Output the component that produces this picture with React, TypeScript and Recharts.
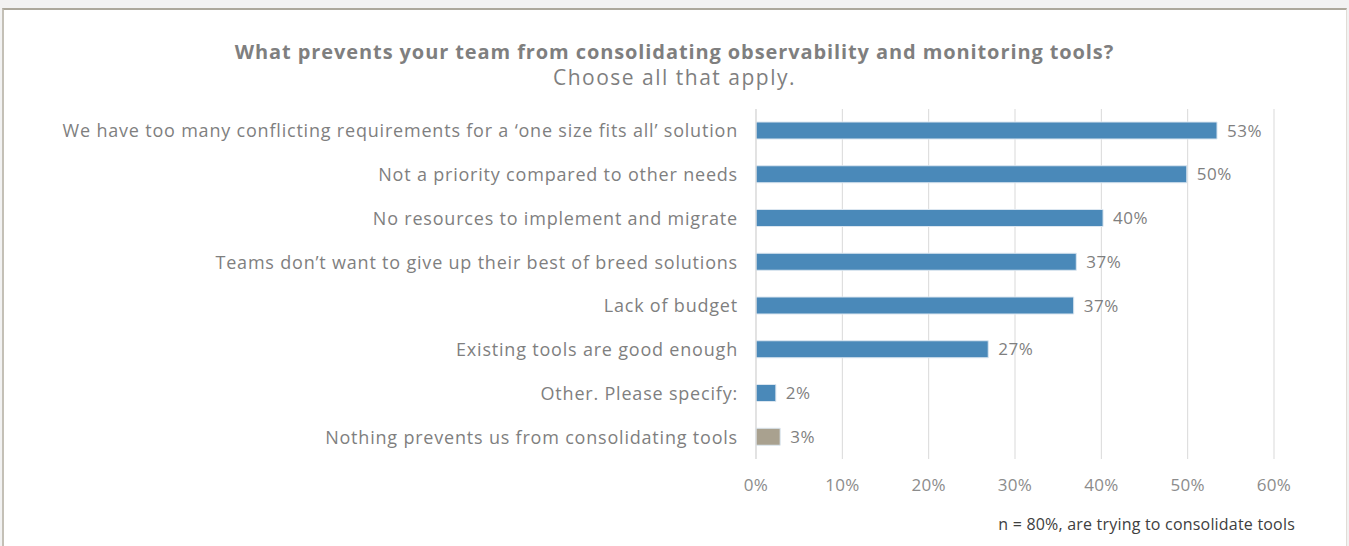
import React from "react"
import { Bar, BarChart, CartesianGrid, Cell, LabelList, XAxis, YAxis } from "recharts"

const reasons = [
    "We have too many conflicting requirements for a \u2018one size fits all\u2019 solution",
    "Not a priority compared to other needs",
    "No resources to implement and migrate",
    "Teams don\u2019t want to give up their best of breed solutions",
    "Lack of budget",
    "Existing tools are good enough",
    "Other. Please specify:",
    "Nothing prevents us from consolidating tools",
]
const shares = [0.534, 0.499, 0.402, 0.371, 0.368, 0.269, 0.023, 0.028]
const barColors = ["#4a89b9", "#4a89b9", "#4a89b9", "#4a89b9", "#4a89b9", "#4a89b9", "#4a89b9", "#a9a18f"]
const xTicks = [0, 0.1, 0.2, 0.3, 0.4, 0.5, 0.6]

const data = reasons.map((name, i) => ({ name, value: shares[i] }))

const FONT = "'Open Sans', sans-serif"
const pct = (v: number) => `${Math.round(v * 100)}%`

export default function App() {
    return (
        <div style={{ position: "absolute", left: 0, top: 0, width: 1349, height: 546, background: "#f2f2f2", fontFamily: FONT }}>
            <div
                style={{
                    position: "absolute",
                    left: 2,
                    top: 8,
                    width: 1345,
                    height: 538,
                    background: "#fff",
                    borderTop: "2px solid #aca89c",
                    borderLeft: "2px solid #c4c0b6",
                    borderRight: "1px solid #e0ddd6",
                    boxSizing: "border-box",
                }}
            />
            <div style={{ position: "absolute", left: 0, top: 0 }}>
                <BarChart
                    width={1349}
                    height={546}
                    data={data}
                    layout="vertical"
                    margin={{ top: 109, right: 75, bottom: 57, left: 8 }}
                    barCategoryGap={0}
                >
                    <CartesianGrid horizontal={false} stroke="#d9d9d9" />
                    <XAxis
                        type="number"
                        domain={[0, 0.6]}
                        ticks={xTicks}
                        tickFormatter={pct}
                        axisLine={false}
                        tickLine={false}
                        tickMargin={14}
                        tick={{ fill: "#8c8c8c", fontSize: 17, fontFamily: FONT, letterSpacing: 0.3 }}
                    />
                    <YAxis
                        type="category"
                        dataKey="name"
                        width={748}
                        axisLine={{ stroke: "#d9d9d9" }}
                        tickLine={false}
                        tickMargin={12}
                        interval={0}
                        tick={{ fill: "#7f7f7f", fontSize: 18, fontFamily: FONT, letterSpacing: 0.8 }}
                    />
                    <Bar dataKey="value" barSize={17} stroke="#dbe6f0" strokeWidth={1} isAnimationActive={false}>
                        {data.map((d, i) => (
                            <Cell key={d.name} fill={barColors[i]} />
                        ))}
                        <LabelList
                            dataKey="value"
                            position="right"
                            offset={10}
                            formatter={(v: any) => pct(Number(v))}
                            style={{ fill: "#7f7f7f", fontSize: 17, fontFamily: FONT, letterSpacing: 0.5 }}
                        />
                    </Bar>
                </BarChart>
            </div>
            <div style={{ position: "absolute", left: 0, width: 1349, top: 39, textAlign: "center", color: "#7f7f7f", fontSize: 20, fontWeight: 700, letterSpacing: 0.9, lineHeight: "26px" }}>
                What prevents your team from consolidating observability and monitoring tools?
            </div>
            <div style={{ position: "absolute", left: 0, width: 1349, top: 63, textAlign: "center", color: "#7f7f7f", fontSize: 21, letterSpacing: 1.5, lineHeight: "28px" }}>
                Choose all that apply.
            </div>
            <div style={{ position: "absolute", right: 54, top: 513, color: "#404040", fontSize: 16, letterSpacing: 0.2, lineHeight: "22px" }}>
                n = 80%, are trying to consolidate tools
            </div>
        </div>
    )
}
